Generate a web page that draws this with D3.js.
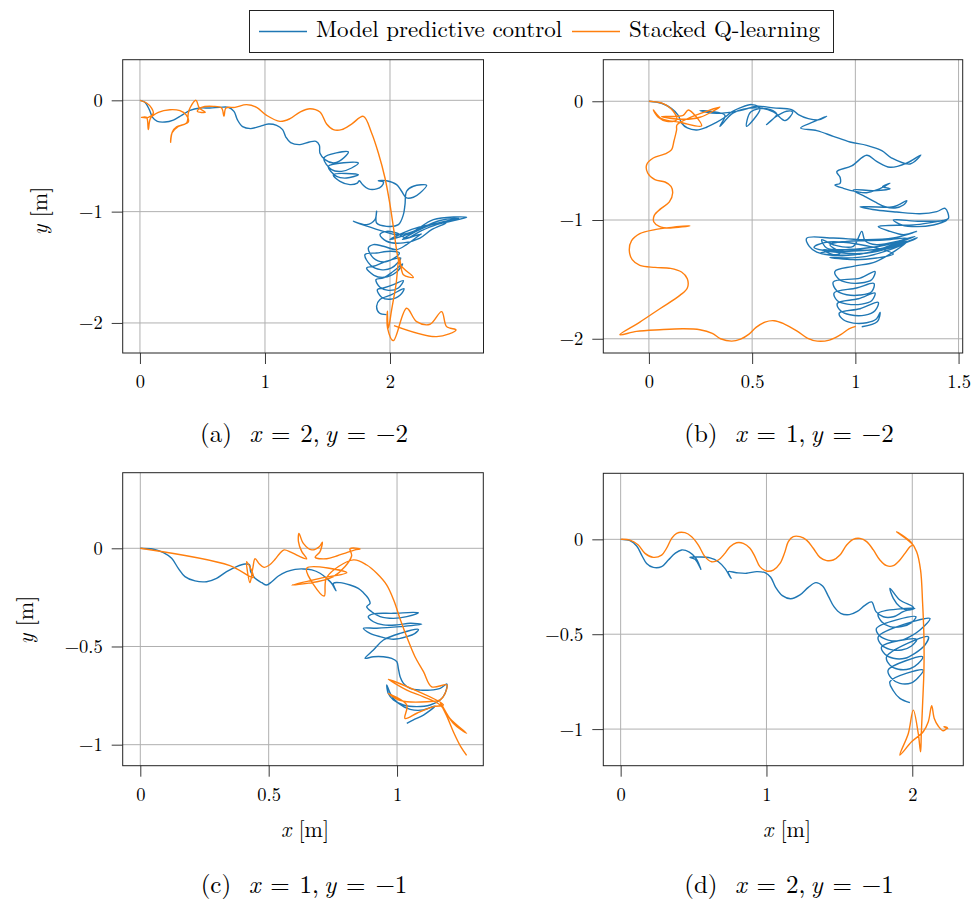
<!DOCTYPE html>
<html>
<head>
<meta charset="utf-8">
<script src="https://cdn.jsdelivr.net/npm/d3@7"></script>
<style>
  body { margin: 0; background: #fff; }
  text { font-family: "Latin Modern Roman", "CMU Serif", "Liberation Serif", serif; fill: #000; }
</style>
</head>
<body>
<svg id="fig" width="974" height="904"></svg>
<script>
// ---- data: trajectories as [x, y] in metres ----
const seriesNames = ["Model predictive control", "Stacked Q-learning"];

// (a) target x = 2, y = -2
const mpcA = [[0,0],[0.04,-0.018],[0.075,-0.084],[0.101,-0.153],[0.139,-0.189],[0.2,-0.195],[0.267,-0.177],[0.333,-0.135],[0.4,-0.09],[0.48,-0.069],[0.56,-0.069],[0.64,-0.063],[0.707,-0.063],[0.752,-0.099],[0.779,-0.174],[0.821,-0.237],[0.885,-0.254],[0.96,-0.234],[1.027,-0.213],[1.093,-0.225],[1.141,-0.263],[1.168,-0.332],[1.205,-0.38],[1.28,-0.398],[1.355,-0.374],[1.408,-0.368],[1.435,-0.404],[1.44,-0.476],[1.48,-0.533],[1.547,-0.563],[1.613,-0.533],[1.667,-0.464],[1.472,-0.518],[1.533,-0.623],[1.613,-0.638],[1.693,-0.608],[1.747,-0.563],[1.507,-0.593],[1.573,-0.683],[1.653,-0.698],[1.747,-0.668],[1.547,-0.668],[1.6,-0.728],[1.68,-0.757],[1.739,-0.743],[1.755,-0.722],[1.781,-0.757],[1.827,-0.796],[1.893,-0.796],[1.933,-0.772],[1.947,-0.734],[1.907,-0.722],[1.973,-0.722],[2.053,-0.757],[2.093,-0.817],[2.133,-0.877],[2.187,-0.871],[2.24,-0.832],[2.293,-0.763],[2.187,-0.772],[2.133,-0.817],[2.12,-0.937],[2.107,-1.027],[2.067,-1.117],[1.973,-1.132],[1.893,-1.102],[1.893,-0.997],[1.88,-1.072],[1.813,-1.117],[1.707,-1.087],[1.947,-1.177],[2.053,-1.207],[2.187,-1.177],[2.347,-1.072],[2.613,-1.051],[2.373,-1.117],[2.24,-1.177],[2.133,-1.237],[2.053,-1.192],[1.973,-1.177],[1.92,-1.207],[1.973,-1.266],[2.107,-1.281],[2.24,-1.237],[2.333,-1.162],[2.45,-1.1],[2.2,-1.15],[2.0,-1.25],[2.15,-1.2],[2.4,-1.08],[2.55,-1.06],[2.3,-1.13],[2.1,-1.25],[2.25,-1.2],[2.24,-1.207],[2.133,-1.296],[2.053,-1.341],[1.947,-1.311],[1.867,-1.296],[1.827,-1.326],[1.867,-1.416],[1.947,-1.452],[2.027,-1.422],[2.075,-1.371],[2.013,-1.356],[1.893,-1.371],[1.8,-1.386],[1.845,-1.482],[1.925,-1.521],[2.013,-1.506],[2.085,-1.416],[1.973,-1.446],[1.867,-1.491],[1.813,-1.506],[1.872,-1.572],[1.952,-1.59],[2.053,-1.542],[2.101,-1.47],[2.027,-1.536],[1.947,-1.596],[1.888,-1.611],[1.92,-1.68],[1.987,-1.707],[2.067,-1.686],[2.107,-1.62],[2.027,-1.656],[1.947,-1.686],[1.899,-1.701],[1.933,-1.769],[2.0,-1.787],[2.08,-1.751],[2.112,-1.692],[2.013,-1.746],[1.92,-1.79],[1.893,-1.85],[1.915,-1.91],[1.973,-1.925]];
const sqlA = [[0,0],[0.053,-0.024],[0.093,-0.069],[0.107,-0.114],[0.067,-0.153],[0.013,-0.153],[0.053,-0.153],[0.067,-0.263],[0.085,-0.159],[0.147,-0.108],[0.24,-0.084],[0.32,-0.093],[0.368,-0.129],[0.387,-0.195],[0.347,-0.219],[0.293,-0.237],[0.259,-0.284],[0.245,-0.377],[0.256,-0.293],[0.307,-0.234],[0.373,-0.204],[0.387,-0.114],[0.4,-0.069],[0.448,0],[0.475,-0.069],[0.523,-0.108],[0.459,-0.099],[0.493,-0.063],[0.587,-0.054],[0.653,-0.069],[0.672,-0.144],[0.688,-0.069],[0.76,-0.063],[0.853,-0.039],[0.933,-0.063],[1.013,-0.135],[1.12,-0.189],[1.2,-0.165],[1.28,-0.105],[1.36,-0.075],[1.44,-0.105],[1.493,-0.213],[1.547,-0.263],[1.613,-0.263],[1.693,-0.213],[1.787,-0.144],[1.853,-0.293],[1.907,-0.473],[1.96,-0.698],[2.0,-0.937],[2.032,-1.177],[2.059,-1.386],[2.08,-1.476],[2.187,-1.59],[2.107,-1.566],[2.075,-1.416],[2.048,-1.656],[2.013,-1.883],[1.987,-2.048],[1.979,-1.895],[1.981,-2.048],[2.027,-2.159],[2.133,-1.868],[2.213,-1.988],[2.32,-2.012],[2.413,-1.898],[2.453,-2.033],[2.528,-2.063],[2.373,-2.123],[2.032,-2.024]];

// (b) target x = 1, y = -2
const mpcB = [[0,0],[0.061,-0.017],[0.11,-0.062],[0.142,-0.118],[0.158,-0.183],[0.186,-0.225],[0.231,-0.242],[0.279,-0.219],[0.325,-0.18],[0.368,-0.135],[0.401,-0.09],[0.441,-0.056],[0.498,-0.028],[0.538,-0.062],[0.473,-0.211],[0.493,-0.09],[0.57,-0.062],[0.619,-0.107],[0.57,-0.197],[0.611,-0.135],[0.667,-0.084],[0.696,-0.09],[0.659,-0.163],[0.603,-0.09],[0.522,-0.056],[0.409,-0.098],[0.344,-0.211],[0.368,-0.118],[0.296,-0.084],[0.247,-0.079],[0.328,-0.101],[0.441,-0.079],[0.522,-0.042],[0.603,-0.056],[0.691,-0.07],[0.724,-0.112],[0.772,-0.146],[0.821,-0.157],[0.861,-0.126],[0.796,-0.174],[0.735,-0.225],[0.813,-0.247],[0.893,-0.295],[0.974,-0.343],[1.055,-0.371],[1.128,-0.416],[1.176,-0.478],[1.265,-0.528],[1.317,-0.452],[1.249,-0.52],[1.168,-0.556],[1.103,-0.506],[1.055,-0.455],[0.982,-0.545],[0.91,-0.593],[0.926,-0.64],[0.926,-0.691],[0.901,-0.705],[0.942,-0.733],[1.006,-0.761],[1.055,-0.77],[1.103,-0.747],[1.168,-0.691],[1.132,-0.719],[1.168,-0.736],[1.087,-0.753],[0.99,-0.747],[1.047,-0.803],[1.095,-0.848],[1.144,-0.888],[1.192,-0.899],[1.233,-0.874],[1.249,-0.837],[1.184,-0.888],[1.023,-0.888],[1.103,-0.916],[1.2,-0.933],[1.313,-0.947],[1.394,-0.93],[1.435,-0.902],[1.451,-0.986],[1.426,-1.003],[1.313,-1.011],[1.184,-1.0],[1.225,-1.042],[1.297,-1.056],[1.378,-1.042],[1.443,-1.003],[1.297,-1.039],[1.111,-1.056],[1.168,-1.096],[1.233,-1.124],[1.297,-1.096],[1.184,-1.152],[1.055,-1.166],[0.893,-1.152],[0.764,-1.154],[0.777,-1.222],[0.813,-1.27],[0.869,-1.292],[0.926,-1.278],[0.877,-1.208],[0.958,-1.18],[1.055,-1.174],[1.152,-1.166],[1.249,-1.152],[1.152,-1.208],[1.055,-1.236],[0.958,-1.25],[0.861,-1.236],[0.837,-1.166],[0.893,-1.208],[0.99,-1.222],[1.031,-1.096],[1.047,-1.174],[1.103,-1.208],[1.216,-1.174],[1.289,-1.138],[1.2,-1.194],[1.087,-1.264],[0.99,-1.292],[0.893,-1.292],[0.845,-1.25],[0.926,-1.264],[1.039,-1.258],[1.152,-1.236],[1.241,-1.197],[1.168,-1.25],[1.055,-1.306],[0.958,-1.32],[0.877,-1.315],[0.99,-1.334],[1.103,-1.32],[1.184,-1.287],[1.0,-1.2],[0.85,-1.19],[0.8,-1.23],[0.9,-1.27],[1.05,-1.28],[1.2,-1.22],[1.3,-1.15],[1.15,-1.24],[0.95,-1.3],[0.83,-1.28],[0.95,-1.25],[1.1,-1.25],[1.25,-1.18],[1.1,-1.35],[0.99,-1.39],[0.901,-1.433],[0.918,-1.494],[0.958,-1.525],[1.023,-1.531],[1.079,-1.503],[1.095,-1.433],[1.023,-1.489],[0.893,-1.522],[0.91,-1.596],[0.958,-1.629],[1.023,-1.632],[1.079,-1.604],[1.09,-1.534],[1.006,-1.573],[0.897,-1.615],[0.913,-1.68],[0.961,-1.708],[1.031,-1.708],[1.079,-1.68],[1.095,-1.615],[1.015,-1.663],[0.913,-1.702],[0.929,-1.764],[0.974,-1.798],[1.047,-1.801],[1.095,-1.764],[1.111,-1.694],[1.023,-1.747],[0.922,-1.784],[0.942,-1.84],[0.99,-1.868],[1.055,-1.865],[1.103,-1.831],[1.12,-1.778],[1.107,-1.854],[1.031,-1.899]];
const sqlB = [[0,0],[0.069,-0.02],[0.118,-0.084],[0.134,-0.157],[0.086,-0.169],[0.045,-0.135],[0.021,-0.073],[0.061,-0.146],[0.15,-0.177],[0.255,-0.208],[0.231,-0.135],[0.191,-0.073],[0.166,-0.118],[0.061,-0.129],[0.166,-0.152],[0.247,-0.135],[0.344,-0.048],[0.137,-0.197],[0.134,-0.242],[0.121,-0.337],[0.11,-0.407],[0.078,-0.444],[0.021,-0.478],[-0.011,-0.534],[-0.006,-0.604],[0.029,-0.66],[0.078,-0.68],[0.107,-0.716],[0.115,-0.772],[0.099,-0.848],[0.058,-0.904],[0.026,-0.961],[0.024,-1.017],[0.05,-1.053],[0.102,-1.067],[0.199,-1.048],[0.11,-1.062],[0.029,-1.081],[-0.044,-1.115],[-0.084,-1.174],[-0.095,-1.256],[-0.081,-1.334],[-0.044,-1.382],[0.029,-1.399],[0.105,-1.407],[0.158,-1.438],[0.186,-1.494],[0.186,-1.573],[0.15,-1.635],[0.053,-1.747],[-0.044,-1.86],[-0.141,-1.966],[-0.06,-1.938],[0.053,-1.924],[0.166,-1.916],[0.247,-1.924],[0.307,-1.955],[0.347,-2.0],[0.401,-2.02],[0.444,-2.003],[0.485,-1.961],[0.519,-1.904],[0.562,-1.86],[0.606,-1.848],[0.654,-1.874],[0.716,-1.933],[0.767,-1.994],[0.816,-2.02],[0.874,-2.011],[0.929,-1.966],[0.969,-1.916],[1.002,-1.896]];

// (c) target x = 1, y = -1
const mpcC = [[0,0],[0.051,-0.005],[0.09,-0.022],[0.122,-0.051],[0.148,-0.102],[0.174,-0.144],[0.213,-0.166],[0.258,-0.17],[0.297,-0.153],[0.336,-0.119],[0.375,-0.093],[0.408,-0.08],[0.425,-0.083],[0.43,-0.119],[0.447,-0.153],[0.473,-0.175],[0.492,-0.187],[0.512,-0.17],[0.538,-0.141],[0.57,-0.119],[0.603,-0.107],[0.635,-0.105],[0.668,-0.11],[0.7,-0.127],[0.726,-0.153],[0.745,-0.178],[0.762,-0.216],[0.752,-0.178],[0.778,-0.175],[0.817,-0.187],[0.849,-0.204],[0.869,-0.226],[0.888,-0.255],[0.895,-0.28],[0.882,-0.297],[0.901,-0.323],[0.934,-0.348],[0.986,-0.357],[1.038,-0.348],[1.083,-0.328],[0.986,-0.331],[0.908,-0.334],[0.888,-0.348],[0.908,-0.374],[0.947,-0.39],[0.999,-0.39],[1.051,-0.382],[1.096,-0.387],[1.012,-0.399],[0.921,-0.407],[0.869,-0.407],[0.895,-0.433],[0.934,-0.45],[0.986,-0.463],[1.038,-0.45],[1.07,-0.433],[1.083,-0.413],[1.012,-0.433],[0.947,-0.467],[0.908,-0.518],[0.875,-0.56],[0.908,-0.552],[0.947,-0.552],[0.979,-0.56],[0.999,-0.577],[1.005,-0.611],[1.012,-0.654],[1.025,-0.688],[1.051,-0.713],[1.09,-0.722],[1.129,-0.722],[1.168,-0.713],[1.194,-0.691],[1.187,-0.739],[1.168,-0.772],[1.129,-0.798],[1.077,-0.806],[1.025,-0.798],[0.986,-0.772],[0.966,-0.739],[0.96,-0.696],[0.975,-0.742],[1.005,-0.789],[1.051,-0.82],[1.103,-0.823],[1.148,-0.803],[1.103,-0.849],[1.064,-0.874],[1.038,-0.891]];
const sqlC = [[0,0],[0.349,-0.088],[0.44,-0.148],[0.414,-0.068],[0.427,-0.175],[0.438,-0.102],[0.447,-0.053],[0.464,-0.08],[0.482,-0.097],[0.503,-0.085],[0.525,-0.056],[0.544,-0.025],[0.56,-0.008],[0.586,-0.019],[0.616,-0.039],[0.648,-0.053],[0.629,-0.017],[0.616,0.034],[0.618,0.076],[0.635,0.025],[0.668,-0.008],[0.697,0.008],[0.709,0.031],[0.7,-0.017],[0.681,-0.046],[0.726,-0.053],[0.765,-0.039],[0.804,-0.022],[0.836,-0.008],[0.856,-0.003],[0.817,-0.002],[0.823,-0.039],[0.752,-0.144],[0.59,-0.187],[0.7,-0.153],[0.804,-0.124],[0.648,-0.102],[0.716,-0.243],[0.726,-0.148],[0.83,-0.059],[0.882,-0.085],[0.921,-0.127],[0.96,-0.187],[0.988,-0.267],[1.014,-0.368],[1.04,-0.458],[1.07,-0.552],[1.103,-0.628],[1.135,-0.705],[1.194,-0.696],[1.187,-0.739],[1.168,-0.772],[1.116,-0.781],[1.038,-0.781],[1.005,-0.772],[0.966,-0.739],[1.038,-0.798],[1.031,-0.866],[1.077,-0.84],[1.142,-0.806],[1.181,-0.798],[0.966,-0.667],[1.038,-0.722],[1.103,-0.756],[1.168,-0.798],[1.206,-0.866],[1.271,-0.942],[1.219,-0.891],[1.168,-0.784],[1.196,-0.861],[1.222,-0.942],[1.248,-1.01],[1.271,-1.054]];

// (d) target x = 2, y = -1
const mpcD = [[0,0],[0.064,-0.007],[0.11,-0.035],[0.144,-0.083],[0.178,-0.127],[0.224,-0.148],[0.281,-0.144],[0.327,-0.109],[0.373,-0.074],[0.418,-0.056],[0.471,-0.067],[0.517,-0.1],[0.539,-0.135],[0.551,-0.158],[0.51,-0.105],[0.475,-0.095],[0.544,-0.093],[0.613,-0.098],[0.67,-0.118],[0.715,-0.153],[0.757,-0.206],[0.738,-0.17],[0.795,-0.176],[0.864,-0.179],[0.933,-0.17],[0.99,-0.176],[1.029,-0.2],[1.063,-0.253],[1.109,-0.297],[1.166,-0.313],[1.23,-0.293],[1.287,-0.253],[1.339,-0.228],[1.385,-0.246],[1.424,-0.299],[1.463,-0.355],[1.509,-0.39],[1.568,-0.397],[1.623,-0.38],[1.675,-0.348],[1.721,-0.33],[1.751,-0.381],[1.801,-0.408],[1.87,-0.408],[1.938,-0.381],[2.007,-0.359],[1.915,-0.32],[1.847,-0.258],[1.87,-0.311],[1.915,-0.355],[1.973,-0.373],[2.018,-0.364],[1.767,-0.39],[1.79,-0.434],[1.847,-0.46],[1.927,-0.46],[1.995,-0.439],[2.025,-0.408],[1.755,-0.469],[1.778,-0.51],[1.835,-0.531],[1.915,-0.534],[1.984,-0.513],[2.053,-0.478],[2.121,-0.417],[1.767,-0.513],[1.79,-0.557],[1.847,-0.58],[1.927,-0.583],[1.995,-0.562],[2.03,-0.527],[1.79,-0.566],[1.813,-0.606],[1.87,-0.627],[1.95,-0.627],[2.018,-0.601],[2.087,-0.557],[2.11,-0.513],[1.824,-0.619],[1.847,-0.663],[1.904,-0.685],[1.984,-0.682],[2.041,-0.654],[2.071,-0.619],[1.835,-0.689],[1.858,-0.733],[1.915,-0.759],[1.995,-0.756],[2.041,-0.728],[2.075,-0.689],[1.847,-0.75],[1.87,-0.798],[1.915,-0.838],[1.984,-0.861]];
const sqlD = [[0,0],[0.064,-0.004],[0.121,-0.03],[0.167,-0.074],[0.224,-0.095],[0.281,-0.083],[0.315,-0.047],[0.35,0.005],[0.384,0.032],[0.441,0.035],[0.487,0.014],[0.533,-0.03],[0.578,-0.091],[0.624,-0.118],[0.67,-0.109],[0.715,-0.074],[0.75,-0.039],[0.795,-0.018],[0.841,-0.021],[0.887,-0.047],[0.921,-0.091],[0.955,-0.144],[1.001,-0.167],[1.047,-0.162],[1.093,-0.127],[1.127,-0.065],[1.15,-0.012],[1.184,0.014],[1.23,0.014],[1.275,-0.004],[1.321,-0.047],[1.367,-0.095],[1.413,-0.112],[1.458,-0.109],[1.504,-0.083],[1.55,-0.03],[1.595,0],[1.641,0.005],[1.687,-0.012],[1.733,-0.056],[1.778,-0.109],[1.824,-0.139],[1.87,-0.139],[1.915,-0.109],[1.95,-0.074],[1.984,-0.039],[2.002,-0.03],[1.893,0.04],[1.989,-0.012],[2.03,-0.065],[2.057,-0.162],[2.071,-0.337],[2.08,-0.513],[2.08,-0.689],[2.071,-0.865],[2.062,-1.023],[2.057,-1.12],[2.041,-1.023],[2.007,-0.9],[1.973,-1.023],[1.915,-1.137],[1.995,-1.067],[2.075,-1.014],[2.11,-0.961],[2.133,-0.877],[2.151,-0.944],[2.178,-0.984],[2.213,-1.009],[2.24,-0.991],[2.217,-0.988],[2.247,-0.998]];

// axis limits and ticks
const xLimA = [-0.138, 2.748], yLimA = [-2.27, 0.365];
const xLimB = [-0.221, 1.52],  yLimB = [-2.12, 0.35];
const xLimC = [-0.0686, 1.336], yLimC = [-1.107, 0.385];
const xLimD = [-0.119, 2.35],  yLimD = [-1.193, 0.348];
const xTicksA = [0, 1, 2],        yTicksA = [0, -1, -2];
const xTicksB = [0, 0.5, 1, 1.5], yTicksB = [0, -1, -2];
const xTicksC = [0, 0.5, 1],      yTicksC = [0, -0.5, -1];
const xTicksD = [0, 1, 2],        yTicksD = [0, -0.5, -1];

// captions: label, target x, target y
const captions = [["(a)", "2", "\u22122"], ["(b)", "1", "\u22122"], ["(c)", "1", "\u22121"], ["(d)", "2", "\u22121"]];

// ---- layout ----
const panels = [
  { mpc: mpcA, sql: sqlA, xLim: xLimA, yLim: yLimA, xt: xTicksA, yt: yTicksA, box: [122.7, 59.7, 483.5, 353], yLabel: [42, 211], xLabel: null, cap: [304, 437] },
  { mpc: mpcB, sql: sqlB, xLim: xLimB, yLim: yLimB, xt: xTicksB, yt: yTicksB, box: [603.3, 59.7, 962.7, 353], yLabel: null, xLabel: null, cap: [789, 437] },
  { mpc: mpcC, sql: sqlC, xLim: xLimC, yLim: yLimC, xt: xTicksC, yt: yTicksC, box: [122.7, 472.7, 483.3, 765.7], yLabel: [28, 620], xLabel: [305, 832], cap: [304, 888] },
  { mpc: mpcD, sql: sqlD, xLim: xLimD, yLim: yLimD, xt: xTicksD, yt: yTicksD, box: [603.3, 473.3, 963.3, 765.7], yLabel: null, xLabel: [787, 832], cap: [789, 888] }
];

const colors = ["#1f77b4", "#ff7f0e"];
const fmt = v => (v < 0 ? "\u2212" : "") + Math.abs(v);
const svg = d3.select("#fig");

panels.forEach((p, i) => {
  const [x0, y0, x1, y1] = p.box;
  const x = d3.scaleLinear().domain(p.xLim).range([x0, x1]);
  const y = d3.scaleLinear().domain(p.yLim).range([y1, y0]);
  const g = svg.append("g");

  // grid
  g.selectAll(".gx").data(p.xt).enter().append("line")
    .attr("x1", d => x(d)).attr("x2", d => x(d)).attr("y1", y0).attr("y2", y1)
    .attr("stroke", "#b0b0b0").attr("stroke-width", 1);
  g.selectAll(".gy").data(p.yt).enter().append("line")
    .attr("y1", d => y(d)).attr("y2", d => y(d)).attr("x1", x0).attr("x2", x1)
    .attr("stroke", "#b0b0b0").attr("stroke-width", 1);

  // trajectories
  const clipId = "clip" + i;
  g.append("clipPath").attr("id", clipId).append("rect")
    .attr("x", x0).attr("y", y0).attr("width", x1 - x0).attr("height", y1 - y0);
  const line = d3.line().x(d => x(d[0])).y(d => y(d[1])).curve(d3.curveCatmullRom.alpha(0.5));
  [p.mpc, p.sql].forEach((s, k) => {
    g.append("path").attr("d", line(s)).attr("fill", "none")
      .attr("stroke", colors[k]).attr("stroke-width", 1.4)
      .attr("stroke-linejoin", "round").attr("clip-path", `url(#${clipId})`);
  });

  // axes
  const ax = g.append("g").attr("transform", `translate(0,${y1})`)
    .call(d3.axisBottom(x).tickValues(p.xt).tickFormat(fmt).tickSize(11).tickPadding(11));
  const ay = g.append("g").attr("transform", `translate(${x0},0)`)
    .call(d3.axisLeft(y).tickValues(p.yt).tickFormat(fmt).tickSize(11).tickPadding(9));
  [ax, ay].forEach(a => {
    a.select(".domain").remove();
    a.selectAll("line").attr("stroke", "#222").attr("stroke-width", 0.9);
    a.selectAll("text").attr("font-size", 18.5)
      .style("font-family", '"Latin Modern Roman","CMU Serif","Liberation Serif",serif');
  });

  // frame
  g.append("rect").attr("x", x0).attr("y", y0).attr("width", x1 - x0).attr("height", y1 - y0)
    .attr("fill", "none").attr("stroke", "#222").attr("stroke-width", 1);

  // axis labels
  if (p.yLabel) {
    const t = g.append("text").attr("transform", `translate(${p.yLabel[0]},${p.yLabel[1]}) rotate(-90)`)
      .attr("text-anchor", "middle").attr("dominant-baseline", "middle").attr("font-size", 22);
    t.append("tspan").attr("font-style", "italic").text("y");
    t.append("tspan").text(" [m]");
  }
  if (p.xLabel) {
    const t = g.append("text").attr("x", p.xLabel[0]).attr("y", p.xLabel[1])
      .attr("text-anchor", "middle").attr("dominant-baseline", "middle").attr("font-size", 22);
    t.append("tspan").attr("font-style", "italic").text("x");
    t.append("tspan").text(" [m]");
  }

  // caption
  const c = captions[i];
  const sp = "\u2004\u200A";
  const t = g.append("text").attr("x", p.cap[0]).attr("y", p.cap[1])
    .attr("text-anchor", "middle").attr("dominant-baseline", "middle").attr("font-size", 25);
  t.append("tspan").text(c[0] + "\u2002\u2009");
  t.append("tspan").attr("font-style", "italic").text("x");
  t.append("tspan").text(sp + "=" + sp + c[1] + ",\u2009");
  t.append("tspan").attr("font-style", "italic").text("y");
  t.append("tspan").text(sp + "=" + sp + c[2]);
});

// legend
const lg = svg.append("g");
lg.append("rect").attr("x", 249.5).attr("y", 10.5).attr("width", 584).attr("height", 42)
  .attr("fill", "#fff").attr("stroke", "#222").attr("stroke-width", 1);
const legX = [259, 572];
seriesNames.forEach((name, k) => {
  lg.append("line").attr("x1", legX[k]).attr("x2", legX[k] + 48).attr("y1", 31.5).attr("y2", 31.5)
    .attr("stroke", colors[k]).attr("stroke-width", 1.4);
  lg.append("text").attr("x", legX[k] + 57).attr("y", 32).attr("dominant-baseline", "middle")
    .attr("font-size", 23).text(name);
});
</script>
</body>
</html>
